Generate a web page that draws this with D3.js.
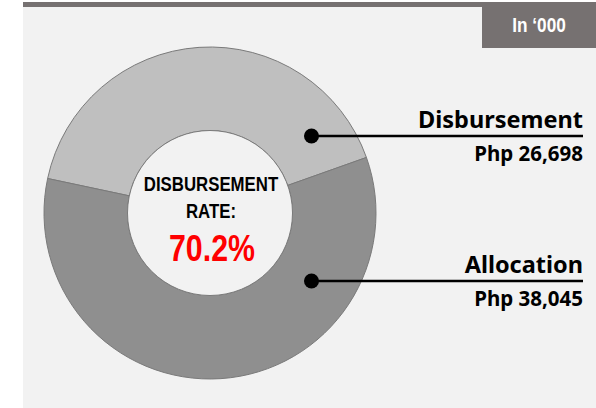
<!DOCTYPE html>
<html lang="en">
<head>
    <meta charset="UTF-8">
    <title>Disbursement Rate</title>
    <script src="https://d3js.org/d3.v7.min.js"></script>
    <style>
        body {
            margin: 0;
            background-color: #ffffff;
        }
        svg {
            display: block;
        }
        .narrow {
            font-family: "Liberation Sans Narrow", "Arial Narrow", "Liberation Sans", Arial, sans-serif;
            font-weight: bold;
        }
        .label {
            font-family: "Noto Sans", "DejaVu Sans", sans-serif;
            font-weight: bold;
        }
    </style>
</head>
<body>

<svg width="596" height="408"></svg>

<script>
    // chart data
    const categories = ["Disbursement", "Allocation"];
    const amounts = [26698, 38045];
    const amountLabels = ["Php 26,698", "Php 38,045"];
    const sliceColors = ["#bfbfbf", "#8f8f8f"];
    const unitLabel = "In \u2018000";
    const centerTitle = ["DISBURSEMENT", "RATE:"];

    const svgWidth = 596;
    const svgHeight = 408;
    const cx = 210, cy = 213;
    const outerR = 166;
    const innerR = 82.5;
    const startDeg = -78;

    // y of each callout line, and where the dots sit
    const calloutY = [136, 281];
    const dotX = 311.5;
    const textRight = 583;

    // no narrow font installed, so squeeze Liberation Sans instead
    const squeeze = 0.82;

    const svg = d3.select("svg")
        .attr("width", svgWidth)
        .attr("height", svgHeight);

    function narrowText(parent, x, y, size, fill, str) {
        return parent.append("text")
            .attr("class", "narrow")
            .attr("transform", `translate(${x}, ${y}) scale(${squeeze}, 1)`)
            .attr("text-anchor", "middle")
            .attr("font-size", size)
            .attr("fill", fill)
            .text(str);
    }

    // background panel
    svg.append("rect")
        .attr("x", 23)
        .attr("y", 2)
        .attr("width", svgWidth - 23)
        .attr("height", svgHeight - 2)
        .attr("fill", "#f2f2f2");

    // top rule
    svg.append("rect")
        .attr("x", 23)
        .attr("y", 2)
        .attr("width", svgWidth - 23)
        .attr("height", 5)
        .attr("fill", "#767171");

    // unit box
    svg.append("rect")
        .attr("x", 482)
        .attr("y", 2)
        .attr("width", svgWidth - 482)
        .attr("height", 46)
        .attr("fill", "#767171");

    narrowText(svg, 539, 32, 21, "#ffffff", unitLabel);

    // donut
    const pie = d3.pie()
        .sort(null)
        .startAngle(startDeg * Math.PI / 180)
        .endAngle((startDeg + 360) * Math.PI / 180);

    const arc = d3.arc()
        .innerRadius(innerR)
        .outerRadius(outerR);

    const g = svg.append("g")
        .attr("transform", `translate(${cx}, ${cy})`);

    g.selectAll("path")
        .data(pie(amounts))
        .enter()
        .append("path")
        .attr("d", arc)
        .attr("fill", (d, i) => sliceColors[i])
        .attr("stroke", "#7a7a7a")
        .attr("stroke-width", 1);

    // inner hole
    g.append("circle")
        .attr("r", innerR)
        .attr("fill", "#f2f2f2")
        .attr("stroke", "#7a7a7a")
        .attr("stroke-width", 1);

    // centre text
    const rate = amounts[0] / amounts[1];

    narrowText(g, 1, -22, 20.5, "#000000", centerTitle[0]);
    narrowText(g, 1, 5, 20.5, "#000000", centerTitle[1]);
    narrowText(g, 2, 48, 37, "#ff0000", d3.format(".1%")(rate));

    // callouts
    const callouts = svg.selectAll(".callout")
        .data(categories)
        .enter()
        .append("g")
        .attr("class", "callout");

    callouts.append("line")
        .attr("x1", dotX)
        .attr("x2", textRight)
        .attr("y1", (d, i) => calloutY[i])
        .attr("y2", (d, i) => calloutY[i])
        .attr("stroke", "#000000")
        .attr("stroke-width", 2.5);

    callouts.append("circle")
        .attr("cx", dotX)
        .attr("cy", (d, i) => calloutY[i])
        .attr("r", 7.5)
        .attr("fill", "#000000");

    callouts.append("text")
        .attr("class", "label")
        .attr("x", textRight)
        .attr("y", (d, i) => calloutY[i] - 8.5)
        .attr("text-anchor", "end")
        .attr("font-size", 23.5)
        .attr("fill", "#000000")
        .text(d => d);

    callouts.append("text")
        .attr("class", "label")
        .attr("x", textRight)
        .attr("y", (d, i) => calloutY[i] + 25)
        .attr("text-anchor", "end")
        .attr("font-size", 20.5)
        .attr("fill", "#000000")
        .text((d, i) => amountLabels[i]);
</script>

</body>
</html>
